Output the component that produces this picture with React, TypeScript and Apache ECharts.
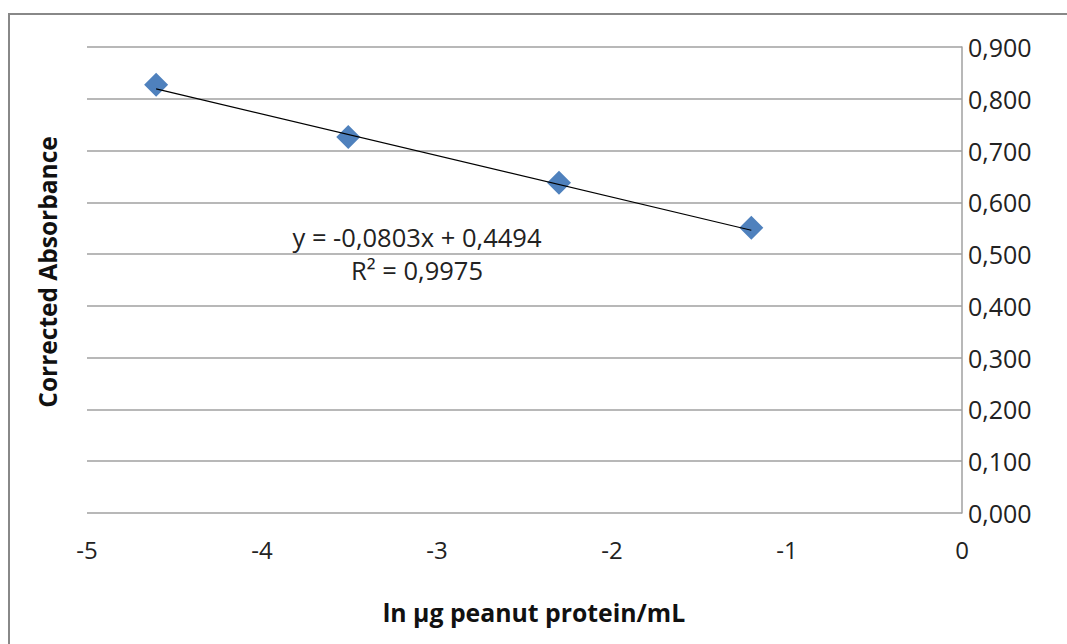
import React, { useEffect, useRef } from "react";
import * as echarts from "echarts";

const lnConcentration = [-4.605, -3.507, -2.303, -1.204];
const correctedAbsorbance = [0.827, 0.726, 0.638, 0.551];
const trendSlope = -0.0803;
const trendIntercept = 0.4494;
const equationText = "y = -0,0803x + 0,4494";
const r2Text = "R² = 0,9975";
const xTitle = "ln µg peanut protein/mL";
const yTitle = "Corrected Absorbance";

const FONT = "'Open Sans', 'Liberation Sans', sans-serif";

export default function App() {
  const ref = useRef<HTMLDivElement>(null);
  useEffect(() => {
    document.body.style.margin = "0";
    const chart = echarts.init(ref.current!, null, { renderer: "svg" });
    const xs = [Math.min(...lnConcentration), Math.max(...lnConcentration)];
    const trend = xs.map((x) => [x, trendSlope * x + trendIntercept]);
    chart.setOption({
      animation: false,
      backgroundColor: "#fff",
      textStyle: { fontFamily: FONT },
      grid: { left: 87, right: 105, top: 47, bottom: 131 },
      xAxis: {
        type: "value",
        min: -5,
        max: 0,
        interval: 1,
        axisLine: { show: false },
        axisTick: { show: false },
        splitLine: { show: false },
        axisLabel: { color: "#222", fontSize: 24, margin: 24, fontFamily: FONT },
      },
      yAxis: {
        type: "value",
        position: "right",
        min: 0,
        max: 0.9,
        interval: 0.1,
        axisLine: { show: true, lineStyle: { color: "#a0a0a0", width: 1.5 } },
        axisTick: { show: false },
        splitLine: { show: true, lineStyle: { color: "#a0a0a0", width: 1.5 } },
        axisLabel: {
          color: "#222",
          fontSize: 25,
          margin: 6,
          fontFamily: FONT,
          formatter: (v: number) => v.toFixed(3).replace(".", ","),
        },
      },
      graphic: [
        {
          type: "rect",
          shape: { x: 9, y: 14, width: 1100, height: 700 },
          style: { fill: "none", stroke: "#888", lineWidth: 2 },
          silent: true,
        },
        {
          type: "text",
          x: 47,
          y: 272,
          rotation: Math.PI / 2,
          style: {
            text: yTitle,
            fill: "#111",
            font: `bold 24.5px ${FONT}`,
            textAlign: "center",
            textVerticalAlign: "middle",
          },
        },
        {
          type: "text",
          x: 534,
          y: 612,
          style: {
            text: xTitle,
            fill: "#111",
            font: `bold 24.8px ${FONT}`,
            textAlign: "center",
            textVerticalAlign: "middle",
          },
        },
        {
          type: "text",
          x: 417,
          y: 237,
          style: {
            text: equationText,
            fill: "#222",
            font: `25.5px ${FONT}`,
            textAlign: "center",
            textVerticalAlign: "middle",
          },
        },
        {
          type: "text",
          x: 417,
          y: 270,
          style: {
            text: r2Text,
            fill: "#222",
            font: `25.5px ${FONT}`,
            textAlign: "center",
            textVerticalAlign: "middle",
          },
        },
      ],
      series: [
        {
          type: "line",
          data: trend,
          symbol: "none",
          lineStyle: { color: "#000", width: 1.2 },
          z: 3,
        },
        {
          type: "scatter",
          data: lnConcentration.map((x, i) => [x, correctedAbsorbance[i]]),
          symbol: "diamond",
          symbolSize: 24,
          itemStyle: { color: "#4F81BD", opacity: 1 },
          z: 2,
        },
      ],
    });
    return () => chart.dispose();
  }, []);
  return <div ref={ref} style={{ width: 1067, height: 644 }} />;
}
